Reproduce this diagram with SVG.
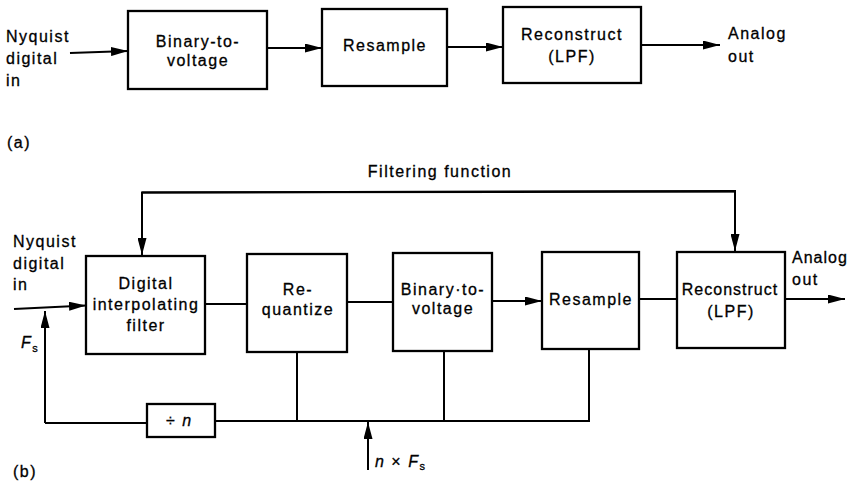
<svg xmlns="http://www.w3.org/2000/svg" width="853" height="482" viewBox="0 0 853 482">
<style>
  text { font-family: "Liberation Sans", Arial, sans-serif; font-size: 16px; letter-spacing: 1.5px; fill: #000; stroke: #000; stroke-width: 0.3; }
  .c { text-anchor: middle; }
  .box { fill: #fff; stroke: #000; stroke-width: 2.3; }
  .ln { fill: none; stroke: #000; stroke-width: 2; }
  .arr { marker-end: url(#ah); }
  .it { font-style: italic; }
</style>
<defs>
  <marker id="ah" markerUnits="userSpaceOnUse" viewBox="0 0 17 9" refX="17" refY="4.5" markerWidth="17" markerHeight="9" orient="auto">
    <path d="M0,0 L17,4.5 L0,9 z" fill="#000"/>
  </marker>
</defs>
<rect width="853" height="482" fill="#fff"/>

<!-- (a) -->
<g id="connectors-a">
  <path class="ln arr" d="M70,53 L128,51"/>
  <path class="ln arr" d="M267,48 H322"/>
  <path class="ln arr" d="M447,47 H503"/>
  <path class="ln arr" d="M641,45 H720"/>
</g>
<g id="a-input"><text x="6" y="42">Nyquist</text><text x="6" y="64">digital</text><text x="6" y="86">in</text></g>
<g id="a-b2v"><rect class="box" x="128" y="11" width="139" height="78"/><text class="c" x="198" y="47">Binary-to-</text><text class="c" x="198" y="66">voltage</text></g>
<g id="a-resample"><rect class="box" x="322" y="9" width="125" height="77"/><text class="c" x="385" y="51">Resample</text></g>
<g id="a-reconstruct"><rect class="box" x="503" y="7" width="138" height="76"/><text class="c" x="572" y="40">Reconstruct</text><text class="c" x="572" y="62">(LPF)</text></g>
<g id="a-output"><text x="728" y="39">Analog</text><text x="728" y="62">out</text></g>
<text x="7" y="148">(a)</text>

<!-- (b) -->
<g id="connectors-b">
  <path class="ln arr" d="M735,191.5 L142,192.5 V255"/>
  <path class="ln arr" d="M142,192.5 L735,191 V251"/>
  <path class="ln arr" d="M14,309 L86,305.5"/>
  <path class="ln arr" d="M45,423 V311"/>
  <path class="ln" d="M45,423 H147"/>
  <path class="ln" d="M215,421 H589 V349"/>
  <path class="ln" d="M297,421 V352"/>
  <path class="ln" d="M444,421 V351"/>
  <path class="ln arr" d="M368,470 V422"/>
  <path class="ln" d="M205,304 H247"/>
  <path class="ln" d="M347,302 H393"/>
  <path class="ln arr" d="M492,301 H542"/>
  <path class="ln" d="M639,299 H677"/>
  <path class="ln arr" d="M785,299 H845"/>
</g>
<text class="c" x="440" y="177">Filtering function</text>
<g id="b-input"><text x="13" y="247">Nyquist</text><text x="13" y="269">digital</text><text x="13" y="290">in</text></g>
<g id="b-filter"><rect class="box" x="86" y="256" width="119" height="98"/><text class="c" x="146" y="289">Digital</text><text class="c" x="146" y="310">interpolating</text><text class="c" x="146" y="331">filter</text></g>
<g id="b-requantize"><rect class="box" x="247" y="254" width="100" height="98"/><text class="c" x="298" y="295">Re-</text><text class="c" x="298" y="315">quantize</text></g>
<g id="b-b2v"><rect class="box" x="393" y="253" width="99" height="98"/><text class="c" x="443" y="295">Binary·to-</text><text class="c" x="443" y="314">voltage</text></g>
<g id="b-resample"><rect class="box" x="542" y="252" width="97" height="97"/><text class="c" x="591" y="305">Resample</text></g>
<g id="b-reconstruct"><rect class="box" x="677" y="252" width="108" height="96"/><text class="c" x="730" y="295" style="letter-spacing:1px">Reconstruct</text><text class="c" x="731" y="317">(LPF)</text></g>
<g id="b-output"><text x="792" y="263" style="letter-spacing:1px">Analog</text><text x="792" y="285">out</text></g>
<g id="b-divn"><rect class="box" x="147" y="404" width="68" height="33"/><text x="166" y="426">÷ <tspan class="it">n</tspan></text></g>
<g id="b-fs"><text class="it" x="21" y="348">F<tspan font-size="11" font-style="normal" dy="4">s</tspan></text></g>
<g id="b-nfs"><text x="375" y="467"><tspan class="it">n</tspan> × <tspan class="it">F</tspan><tspan font-size="11" dy="3">s</tspan></text></g>
<text x="13" y="477">(b)</text>
</svg>
